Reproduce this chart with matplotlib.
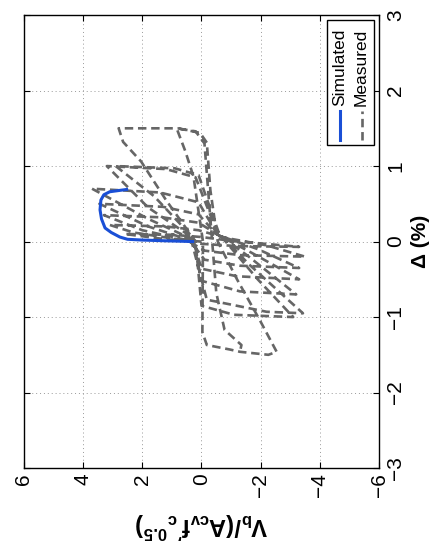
import numpy as np
import matplotlib
matplotlib.use('Agg')
import matplotlib.pyplot as plt
from matplotlib.patches import Rectangle

# chart was exported rotated 90 deg counter-clockwise:
# shear ratio V runs left->right (6 .. -6), drift runs bottom->top (-3 .. 3)

sim_drift = [0.00, 0.01, 0.02, 0.03, 0.06, 0.12, 0.18, 0.30, 0.42, 0.55, 0.62, 0.66, 0.69]
sim_shear = [0.30, 1.20, 2.00, 2.50, 2.76, 3.05, 3.26, 3.38, 3.43, 3.40, 3.30, 3.10, 2.53]

meas_drift = [
    0.00, 0.03, 0.10, 0.09, 0.06,
    0.01, -0.07, -0.06, -0.03,
    0.03, 0.12, 0.22, 0.20, 0.15,
    0.05, -0.05, -0.20, -0.18, -0.12,
    0.02, 0.15, 0.35, 0.32, 0.25,
    0.08, -0.10, -0.35, -0.32, -0.24,
    0.02, 0.20, 0.50, 0.46, 0.36,
    0.10, -0.15, -0.50, -0.46, -0.36,
    0.03, 0.30, 0.70, 0.65, 0.52,
    0.12, -0.20, -0.70, -0.66, -0.52,
    0.05, 0.45, 1.00, 0.96, 0.85,
    0.15, -0.30, -0.95, -0.93, -0.77,
    0.10, 0.60, 1.00, 0.97, 0.88,
    0.10, -0.50, -1.00, -0.97, -0.85,
    0.00, 0.55, 1.06, 1.32, 1.50, 1.50, 1.44, 1.31,
    0.68, 0.00, -0.50, -1.04, -1.46, -1.50, -1.46, -1.43, -1.37,
    -1.20, 0.00, 0.40, 0.86, 1.20, 1.50, 1.46, 1.30,
    0.30, -0.68, -1.17, -1.37, -1.46,
]
meas_shear = [
    0.00, 1.20, 2.60, 1.00, 0.00,
    -1.00, -3.30, -1.20, 0.00,
    0.80, 2.30, 3.10, 1.20, 0.10,
    -0.80, -2.20, -3.50, -1.30, -0.10,
    0.50, 2.00, 3.30, 1.30, 0.10,
    -0.60, -1.90, -3.30, -1.30, -0.10,
    0.40, 1.80, 3.45, 1.30, 0.10,
    -0.50, -1.70, -3.30, -1.20, 0.00,
    0.30, 1.80, 3.70, 1.40, 0.10,
    -0.50, -1.60, -3.20, -1.30, 0.00,
    0.30, 1.80, 3.20, 1.20, 0.20,
    -0.50, -1.60, -3.43, -2.20, -0.18,
    0.40, 1.60, 2.90, 0.90, 0.10,
    -0.60, -1.90, -3.10, -1.10, 0.00,
    0.20, 1.20, 2.04, 2.65, 2.80, 0.80, 0.05, -0.18,
    -0.30, -0.55, -1.20, -1.97, -2.54, -2.26, -1.30, -0.96, -0.18,
    -0.03, -0.05, 0.10, 0.27, 0.55, 0.84, 0.20, -0.10,
    -0.30, -0.50, -0.78, -1.35, -1.30,
]

shear_ticks = [6, 4, 2, 0, -2, -4, -6]
drift_ticks = [-3, -2, -1, 0, 1, 2, 3]

plt.rcParams['font.family'] = ['Liberation Sans', 'DejaVu Sans']
plt.rcParams['mathtext.fontset'] = 'custom'
plt.rcParams['mathtext.rm'] = 'Liberation Sans'
plt.rcParams['mathtext.bf'] = 'Liberation Sans:bold'

fig = plt.figure(figsize=(4.33, 5.5), dpi=100)
ax = fig.add_axes([0.0554, 0.149, 0.8199, 0.8236])

gray_dash = (0, (3.2, 1.8))
ax.plot(meas_shear, meas_drift, color='#666666', lw=1.9,
        linestyle=gray_dash, zorder=2)
ax.plot(sim_shear, sim_drift, color='#1a4fd6', lw=2.2, zorder=3)

ax.set_xlim(6, -6)
ax.set_ylim(-3, 3)
ax.set_xticks(shear_ticks)
ax.set_yticks(drift_ticks)
ax.set_xticklabels(['\u2212' + str(-t) if t < 0 else str(t) for t in shear_ticks],
                   rotation=90)
ax.set_yticklabels(['\u2212' + str(-t) if t < 0 else str(t) for t in drift_ticks],
                   rotation=90, va='center')
ax.yaxis.tick_right()
ax.tick_params(direction='in', length=4.5, width=0.8, labelsize=15,
               top=True, bottom=True, left=True, right=True,
               labelleft=False, labelright=True, labelbottom=True)
ax.tick_params(axis='x', pad=4)
ax.tick_params(axis='y', pad=5)
ax.grid(True, linestyle=(0, (1, 3)), color='#999999', lw=0.7)
for s in ax.spines.values():
    s.set_linewidth(1.0)

# legend drawn by hand so it can be rotated with the rest
ax.add_patch(Rectangle((0.8535, 0.713), 0.1325, 0.276, transform=ax.transAxes,
                       facecolor='white', edgecolor='black', lw=1.0, zorder=5))
ax.plot([0.889, 0.889], [0.724, 0.788], transform=ax.transAxes,
        color='#1a4fd6', lw=2.2, zorder=6)
ax.plot([0.951, 0.951], [0.724, 0.788], transform=ax.transAxes,
        color='#666666', lw=1.9, linestyle=gray_dash, zorder=6)
ax.text(0.889, 0.800, 'Simulated', transform=ax.transAxes, rotation=90,
        ha='center', va='bottom', fontsize=12.5, zorder=6)
ax.text(0.951, 0.800, 'Measured', transform=ax.transAxes, rotation=90,
        ha='center', va='bottom', fontsize=12.5, zorder=6)

fig.text(0.4665, 0.045, r"$\mathbf{V_b/(A_{cv}f'_c{}^{0.5})}$", rotation=180,
         ha='center', va='center', fontsize=17)
fig.text(0.972, 0.5605, '\u0394 (%)', rotation=90, ha='center', va='center',
         fontsize=15, fontweight='bold')

fig.savefig('out.png', dpi=100)
